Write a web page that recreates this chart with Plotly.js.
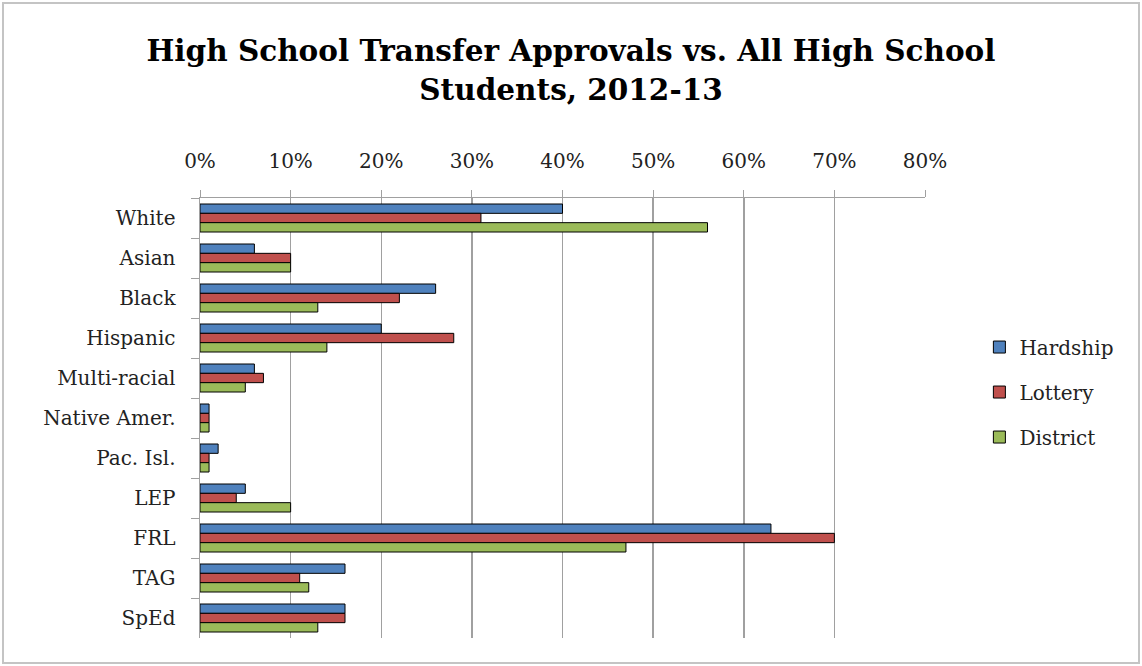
<!DOCTYPE html>
<html>
<head>
<meta charset="utf-8">
<script src="https://cdn.plot.ly/plotly-3.0.1.min.js"></script>
<style>
  html, body { margin: 0; padding: 0; background: #fff; }
  #frame { position: absolute; left: 2px; top: 2px; width: 1134px; height: 658px; border: 2px solid #c4c4c4; }
  #chart { position: absolute; left: 0; top: 0; width: 1142px; height: 666px; }
</style>
</head>
<body>
<div id="frame"></div>
<div id="chart"></div>
<script>
const categories = ["White", "Asian", "Black", "Hispanic", "Multi-racial", "Native Amer.", "Pac. Isl.", "LEP", "FRL", "TAG", "SpEd"];
const hardship = [40, 6, 26, 20, 6, 1, 2, 5, 63, 16, 16];
const lottery  = [31, 10, 22, 28, 7, 1, 1, 4, 70, 11, 16];
const district = [56, 10, 13, 14, 5, 1, 1, 10, 47, 12, 13];
const seriesNames = ["Hardship", "Lottery", "District"];
const xTicks = [0, 10, 20, 30, 40, 50, 60, 70, 80];

const colors = ["#4f81bd", "#c0504d", "#9bbb59"];
const serif = "DejaVu Serif, Liberation Serif, serif";

const traces = [hardship, lottery, district].map((vals, i) => ({
  type: "bar",
  orientation: "h",
  name: seriesNames[i],
  y: categories,
  x: vals,
  legendgroup: "g" + i,
  marker: { color: colors[i], line: { color: "#000", width: 1 } },
  hoverinfo: "x+y+name"
}));

const layout = {
  width: 1142,
  height: 666,
  paper_bgcolor: "rgba(0,0,0,0)",
  plot_bgcolor: "rgba(0,0,0,0)",
  margin: { l: 200, r: 217, t: 198, b: 28 },
  barmode: "group",
  bargap: 0.3,
  bargroupgap: 0,
  title: {
    text: "<b>High School Transfer Approvals vs. All High School<br>Students, 2012-13</b>",
    font: { family: serif, size: 29.5, color: "#000" },
    x: 0.5, xanchor: "center", xref: "container",
    y: 0.908, yanchor: "middle", yref: "container"
  },
  xaxis: {
    side: "top",
    range: [0, 80],
    tickvals: xTicks,
    ticktext: xTicks.map(v => v + "%"),
    showgrid: true,
    gridcolor: "#a0a0a0",
    gridwidth: 1.5,
    zeroline: false,
    showline: true,
    linecolor: "#a0a0a0",
    linewidth: 1.5,
    ticks: "outside",
    ticklen: 7,
    tickcolor: "#a0a0a0",
    ticklabelstandoff: 14,
    tickfont: { family: serif, size: 20, color: "#222" },
    fixedrange: true
  },
  yaxis: {
    autorange: "reversed",
    type: "category",
    showline: true,
    linecolor: "#a0a0a0",
    linewidth: 1.5,
    ticks: "outside",
    tickson: "boundaries",
    ticklen: 8,
    tickcolor: "#a0a0a0",
    ticklabelstandoff: 19,
    tickfont: { family: serif, size: 20, color: "#222" },
    showgrid: false,
    fixedrange: true
  },
  legend: {
    x: 1.075, xanchor: "left",
    y: 0.559, yanchor: "middle",
    font: { family: serif, size: 20, color: "#222" },
    tracegroupgap: 16,
    itemwidth: 30,
    traceorder: "grouped"
  },
  showlegend: true
};

Plotly.newPlot("chart", traces, layout, { displayModeBar: false, staticPlot: true });
</script>
</body>
</html>
